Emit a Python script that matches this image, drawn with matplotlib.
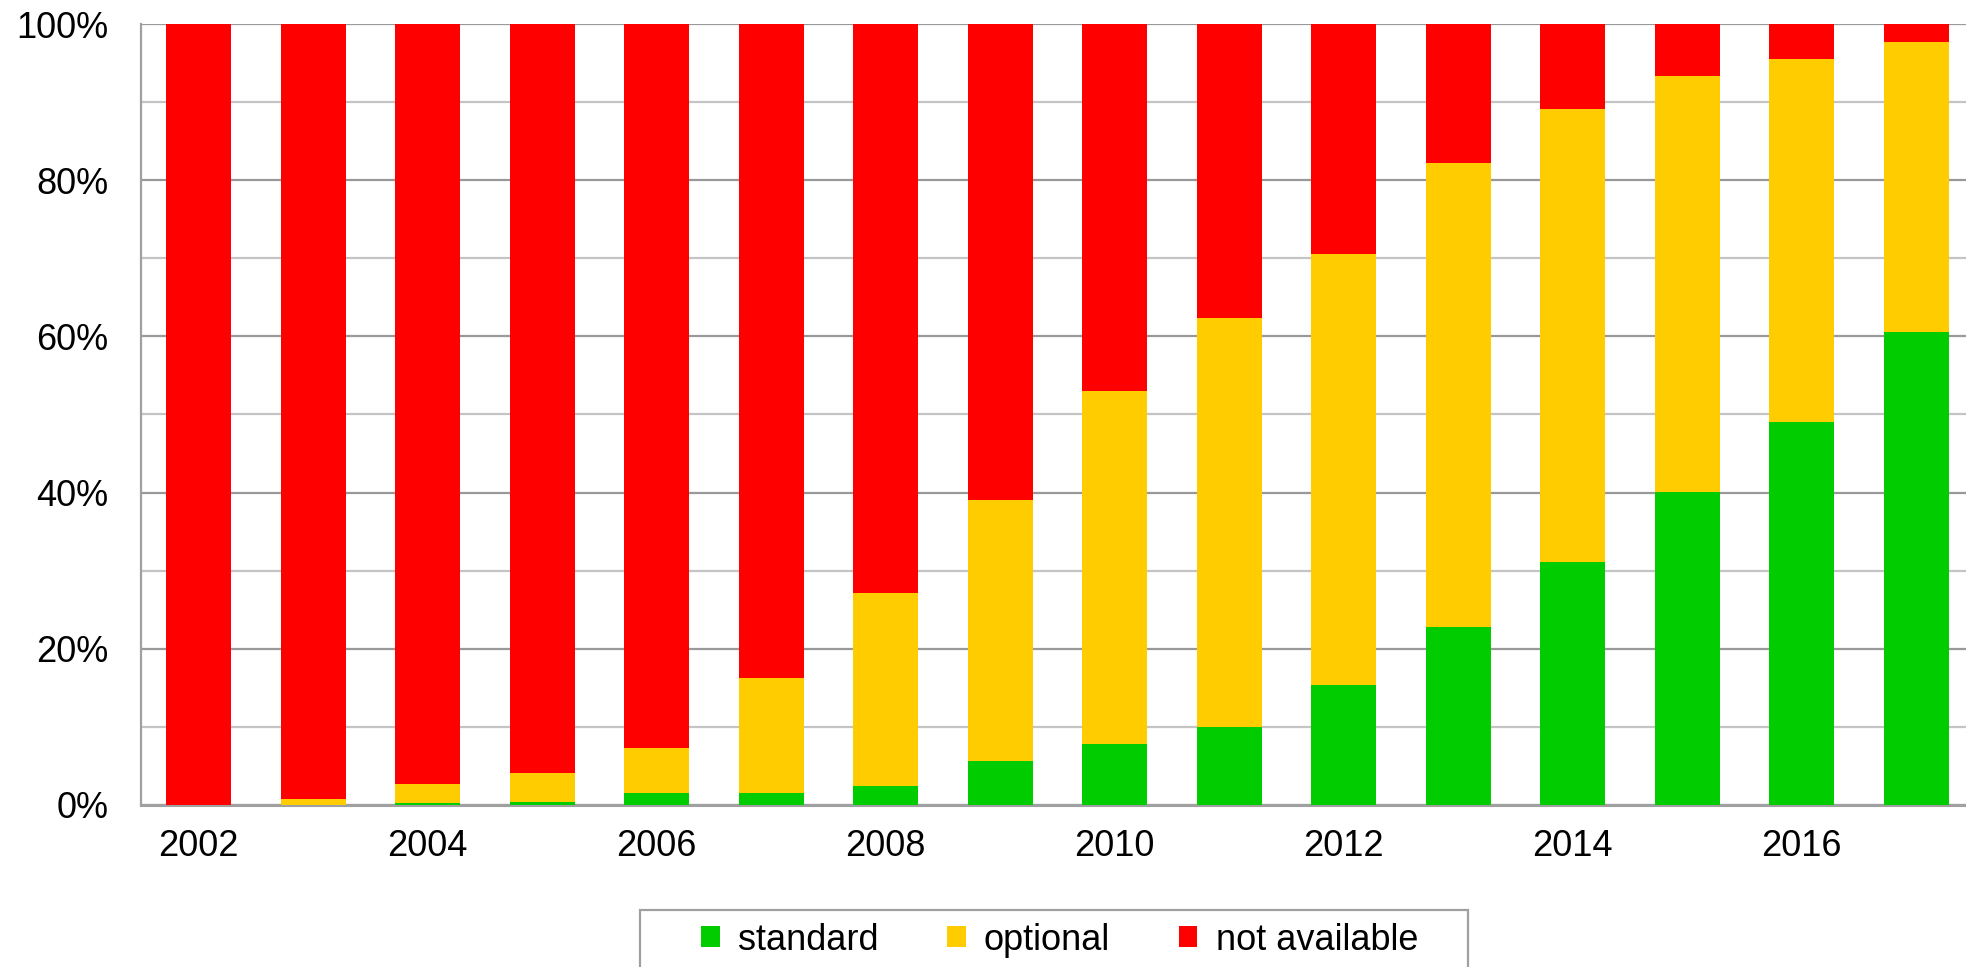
import numpy as np
import matplotlib.pyplot as plt
from matplotlib.patches import Rectangle

plt.rcParams['font.family'] = ['Liberation Sans', 'DejaVu Sans']

# share of models per year (%)
years = list(range(2002, 2018))
standard = [0.0, 0.0, 0.2, 0.4, 1.5, 1.5, 2.4, 5.6, 7.8, 10.0, 15.4, 22.8, 31.1, 40.1, 49.0, 60.5]
optional = [0.0, 0.8, 2.5, 3.7, 5.8, 14.8, 24.7, 33.5, 45.2, 52.4, 55.1, 59.4, 58.0, 53.3, 46.5, 37.2]
not_available = [100.0, 99.2, 97.3, 95.9, 92.7, 83.7, 72.9, 60.9, 47.0, 37.6, 29.5, 17.8, 10.9, 6.6, 4.5, 2.3]

series = ['standard', 'optional', 'not available']
colors = ['#00cc00', '#ffcc00', '#ff0000']

fig = plt.figure(figsize=(19.66, 9.67), dpi=100)
ax = fig.add_axes([0.07197, 0.16753, 0.93184, 0.80765])

x = np.arange(len(years))
bottom = np.zeros(len(years))
handles = []
for vals, lab, col in zip([standard, optional, not_available], series, colors):
    b = ax.bar(x, vals, width=0.57, bottom=bottom, color=col, label=lab, zorder=3)
    handles.append(b)
    bottom += np.array(vals)

ax.set_xlim(-0.5, 15.5)
ax.set_ylim(0, 100)

# y axis: labels every 20%, light lines in between
ax.set_yticks(np.arange(0, 101, 20))
ax.set_yticklabels([f'{v}%' for v in range(0, 101, 20)])
ax.set_yticks(np.arange(10, 100, 20), minor=True)
ax.grid(axis='y', which='major', color='#999999', linewidth=1.6, zorder=0)
ax.grid(axis='y', which='minor', color='#c4c4c4', linewidth=1.6, zorder=0)
ax.set_axisbelow(True)

ax.set_xticks(x[::2])
ax.set_xticklabels([str(y) for y in years[::2]])

ax.tick_params(axis='y', which='both', length=0, pad=24, labelsize=26)
ax.tick_params(axis='x', length=0, pad=17, labelsize=26)

for s in ['top', 'right']:
    ax.spines[s].set_visible(False)
ax.spines['left'].set_color('#a0a0a0')
ax.spines['left'].set_linewidth(1.6)
ax.spines['bottom'].set_color('#a0a0a0')
ax.spines['bottom'].set_linewidth(2.2)

# legend below the plot with its own frame
fig.patches.append(Rectangle((640 / 1966, -0.05), 828 / 1966, 0.05 + 57 / 967,
                             transform=fig.transFigure, facecolor='white',
                             edgecolor='#a0a0a0', linewidth=1.6))
fig.legend(handles=handles, labels=series, loc='center', ncol=3,
           bbox_to_anchor=(0.5389, 1 - 940 / 967), frameon=False,
           fontsize=26, handlelength=0.52, handleheight=0.52,
           handletextpad=0.5, columnspacing=1.9)

plt.savefig('out.png', dpi=100)
